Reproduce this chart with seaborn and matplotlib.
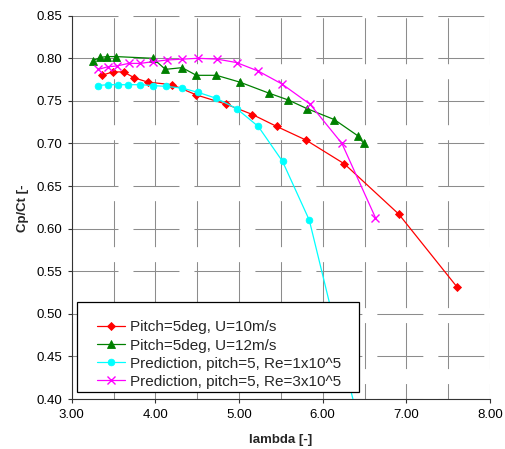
import matplotlib
matplotlib.use('Agg')
import matplotlib.pyplot as plt
import seaborn as sns
from matplotlib.ticker import MultipleLocator, FormatStrFormatter
from matplotlib.patches import Rectangle

# ---- data ----
red_x = [3.36, 3.49, 3.62, 3.75, 3.91, 4.20, 4.49, 4.85, 5.16, 5.45, 5.80, 6.26, 6.91, 7.61]
red_y = [0.780, 0.784, 0.784, 0.777, 0.772, 0.769, 0.757, 0.746, 0.734, 0.720, 0.704, 0.676, 0.617, 0.531]

green_x = [3.25, 3.34, 3.42, 3.53, 3.97, 4.12, 4.32, 4.49, 4.73, 5.01, 5.36, 5.59, 5.81, 6.14, 6.42, 6.49]
green_y = [0.797, 0.801, 0.802, 0.802, 0.800, 0.787, 0.789, 0.780, 0.780, 0.772, 0.759, 0.751, 0.741, 0.728, 0.709, 0.700]

cyan_x = [3.31, 3.43, 3.55, 3.67, 3.82, 3.97, 4.13, 4.32, 4.51, 4.73, 4.97, 5.23, 5.52, 5.84, 6.50]
cyan_y = [0.768, 0.769, 0.769, 0.769, 0.769, 0.768, 0.767, 0.765, 0.760, 0.753, 0.741, 0.720, 0.679, 0.610, 0.344]

mag_x = [3.32, 3.43, 3.54, 3.68, 3.82, 3.97, 4.14, 4.32, 4.51, 4.74, 4.97, 5.23, 5.51, 5.85, 6.23, 6.63]
mag_y = [0.787, 0.790, 0.791, 0.794, 0.794, 0.796, 0.798, 0.799, 0.800, 0.799, 0.795, 0.785, 0.770, 0.746, 0.700, 0.613]

labels = ["Pitch=5deg, U=10m/s", "Pitch=5deg, U=12m/s",
          "Prediction, pitch=5, Re=1x10^5", "Prediction, pitch=5, Re=3x10^5"]

sns.set_theme(style='white')
plt.rcParams['font.family'] = ['Liberation Sans', 'DejaVu Sans']
plt.rcParams['lines.scale_dashes'] = False

W, H = 505, 449
fig = plt.figure(figsize=(W / 100, H / 100), dpi=100)
L, R, T, B = 71.7, 490.0, 15.7, 399.0
ax = fig.add_axes([L / W, 1 - B / H, (R - L) / W, (B - T) / H])

styles = [
    (red_x, red_y, '#FF0000', 'D', 4.2, 0.6),
    (green_x, green_y, '#008000', '^', 6.0, 0.6),
    (cyan_x, cyan_y, '#00FFFF', 'o', 4.8, 0.6),
    (mag_x, mag_y, '#FF00FF', 'x', 6.0, 1.0),
]
for (xs, ys, c, m, ms, mew), lab in zip(styles, labels):
    sns.lineplot(x=xs, y=ys, ax=ax, color=c, marker=m, markersize=ms,
                 markeredgecolor=c, markerfacecolor=c, markeredgewidth=mew,
                 linewidth=0.9, sort=False, estimator=None, label=lab,
                 zorder=3)

ax.set_xlim(3.0, 8.0)
ax.set_ylim(0.40, 0.85)
ax.xaxis.set_major_locator(MultipleLocator(1.0))
ax.xaxis.set_minor_locator(MultipleLocator(0.5))
ax.yaxis.set_major_locator(MultipleLocator(0.05))
ax.xaxis.set_major_formatter(FormatStrFormatter('%.2f'))
ax.yaxis.set_major_formatter(FormatStrFormatter('%.2f'))

ax.tick_params(axis='both', which='major', direction='out', length=3,
               width=0.8, color='#333333', labelsize=9.5, pad=4,
               labelcolor='black', bottom=True, left=True)
ax.tick_params(axis='x', which='minor', length=0, bottom=True)

# Excel-like long-dash grid
dash = (33.1, 10.8)
ax.yaxis.grid(True, which='major', color='#8c8c8c', linewidth=0.75,
              linestyle=(0, dash), zorder=1)
ax.xaxis.grid(True, which='both', color='#8c8c8c', linewidth=0.75,
              linestyle=(22.0, dash), zorder=1)
ax.set_axisbelow(True)

for s in ['top', 'right']:
    ax.spines[s].set_visible(False)
for s in ['left', 'bottom']:
    ax.spines[s].set_color('#333333')
    ax.spines[s].set_linewidth(0.8)

ax.set_xlabel('lambda [-]', fontsize=9.5, fontweight='bold')
ax.set_ylabel('Cp/Ct [-', fontsize=9.5, fontweight='bold')
ax.xaxis.set_label_coords(0.5, -0.0924)
ax.yaxis.set_label_coords(-0.102, 0.498)

# legend with Excel-like box
box = Rectangle((0.0127, 0.0183), 0.674, 0.2348, transform=ax.transAxes,
                facecolor='white', edgecolor='black', linewidth=0.9, zorder=4)
ax.add_patch(box)
leg = ax.legend(loc='lower left', bbox_to_anchor=(0.0605, 0.0267),
                frameon=False, fontsize=11, handlelength=1.83,
                handletextpad=0.3, labelspacing=0.27, borderpad=0,
                borderaxespad=0)
leg.set_zorder(5)

fig.savefig('out.png', dpi=100)
